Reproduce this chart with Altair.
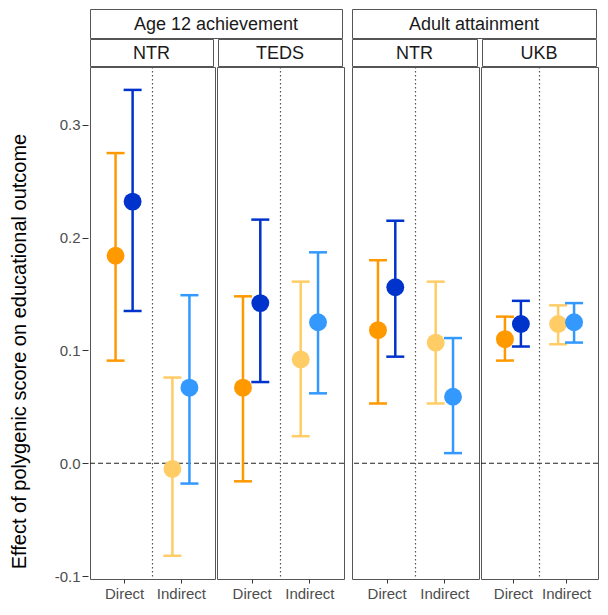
import altair as alt
import pandas as pd

# ---------------- data ----------------
outcome_groups = ["Age 12 achievement", "Adult attainment"]
group_cohorts = [["NTR", "TEDS"], ["NTR", "UKB"]]
effect_types = ["Direct", "Indirect"]
series_names = ["Model 1", "Model 2"]

# order within each panel: Direct/Model 1, Direct/Model 2, Indirect/Model 1, Indirect/Model 2
est_age12_ntr = [0.184, 0.232, -0.005, 0.067]
lo_age12_ntr = [0.091, 0.135, -0.082, -0.018]
hi_age12_ntr = [0.275, 0.331, 0.076, 0.149]

est_age12_teds = [0.067, 0.142, 0.092, 0.125]
lo_age12_teds = [-0.016, 0.072, 0.024, 0.062]
hi_age12_teds = [0.148, 0.216, 0.161, 0.187]

est_adult_ntr = [0.118, 0.156, 0.107, 0.059]
lo_adult_ntr = [0.053, 0.0945, 0.053, 0.009]
hi_adult_ntr = [0.180, 0.215, 0.161, 0.111]

est_adult_ukb = [0.110, 0.1235, 0.1235, 0.125]
lo_adult_ukb = [0.091, 0.1035, 0.1055, 0.107]
hi_adult_ukb = [0.130, 0.144, 0.140, 0.142]

panel_values = [
    [(est_age12_ntr, lo_age12_ntr, hi_age12_ntr), (est_age12_teds, lo_age12_teds, hi_age12_teds)],
    [(est_adult_ntr, lo_adult_ntr, hi_adult_ntr), (est_adult_ukb, lo_adult_ukb, hi_adult_ukb)],
]

color_keys = ["Direct · Model 1", "Direct · Model 2", "Indirect · Model 1", "Indirect · Model 2"]
color_values = ["#FF9900", "#0033CC", "#FFCC66", "#3399FF"]

y_ticks = [-0.1, 0.0, 0.1, 0.2, 0.3]
y_title = "Effect of polygenic score on educational outcome"

# ---------------- styling / layout ----------------
FONT = "Liberation Sans"
BORDER = "#555555"
SW = 1  # border stroke width (Vega expands bounds by SW on each side)
Y_DOMAIN = [-0.1026, 0.3513]
X_DOMAIN = [0.4, 2.6]
DODGE = 0.15
PANEL_H = 512
OUTER_H = 29
INNER_H = 27
panel_widths = [[125, 127], [127, 117]]
strip_widths = [[123, 124], [125, 114]]
STRIP_GAP = 3
GROUP_GAP = 6

y_scale = alt.Scale(domain=Y_DOMAIN, nice=False, zero=False)
x_scale = alt.Scale(domain=X_DOMAIN, nice=False, zero=False)
color_scale = alt.Scale(domain=color_keys, range=color_values)

label_expr = "datum.value == 1 ? '{}' : '{}'".format(effect_types[0], effect_types[1])


def panel_frame(values):
    est, lo, hi = values
    rows = []
    k = 0
    for ei, eff in enumerate(effect_types):
        for si, ser in enumerate(series_names):
            rows.append({
                "effect": eff,
                "series": ser,
                "key": color_keys[k],
                "xpos": ei + 1 + (DODGE if si == 1 else -DODGE),
                "est": est[k],
                "lo": lo[k],
                "hi": hi[k],
            })
            k += 1
    return pd.DataFrame(rows)


def strip(label, w, h):
    df = pd.DataFrame({"label": [label]})
    return alt.Chart(df).mark_text(
        fontSize=18, font=FONT, color="#1a1a1a", baseline="alphabetic", align="center"
    ).encode(
        text="label:N", x=alt.value(w / 2), y=alt.value(h / 2 + 6.5)
    ).properties(
        width=w, height=h,
        view=alt.ViewBackground(stroke=BORDER, strokeWidth=SW, fill="white"),
    )


def blank(w, h):
    df = pd.DataFrame({"label": [""]})
    return alt.Chart(df).mark_text().encode(text="label:N").properties(
        width=w, height=h,
        view=alt.ViewBackground(stroke="transparent", strokeWidth=SW),
    )


def panel(values, w):
    df = panel_frame(values)
    base = alt.Chart(df)
    xaxis = alt.Axis(values=[1, 2], labelExpr=label_expr, title=None, domain=False,
                     ticks=True, tickSize=4, tickColor="#333333", labelPadding=3,
                     labelFontSize=15, labelColor="#4d4d4d", labelFont=FONT, grid=False)
    sep = alt.Chart(pd.DataFrame({"mid": [(1 + 2) / 2]})).mark_rule(
        color="#555555", strokeDash=[1.5, 2.5], strokeWidth=1.2
    ).encode(x=alt.X("mid:Q", scale=x_scale, axis=xaxis))
    zero = alt.Chart(pd.DataFrame({"ref": [0.0]})).mark_rule(
        color="#222222", strokeDash=[5, 3], strokeWidth=1.2
    ).encode(y=alt.Y("ref:Q", scale=y_scale, axis=None))
    enc_color = alt.Color("key:N", scale=color_scale, legend=None)
    bars = base.mark_rule(strokeWidth=2.5).encode(
        x=alt.X("xpos:Q", scale=x_scale, axis=xaxis),
        y=alt.Y("lo:Q", scale=y_scale, axis=None),
        y2="hi:Q",
        color=enc_color,
    )
    cap_lo = base.mark_tick(orient="horizontal", size=18, thickness=2.5, opacity=1).encode(
        x=alt.X("xpos:Q", scale=x_scale, axis=xaxis),
        y=alt.Y("lo:Q", scale=y_scale, axis=None),
        color=enc_color,
    )
    cap_hi = base.mark_tick(orient="horizontal", size=18, thickness=2.5, opacity=1).encode(
        x=alt.X("xpos:Q", scale=x_scale, axis=xaxis),
        y=alt.Y("hi:Q", scale=y_scale, axis=None),
        color=enc_color,
    )
    pts = base.mark_circle(size=320, opacity=1).encode(
        x=alt.X("xpos:Q", scale=x_scale, axis=xaxis),
        y=alt.Y("est:Q", scale=y_scale, axis=None),
        color=enc_color,
    )
    return alt.layer(sep, zero, bars, cap_lo, cap_hi, pts).properties(
        width=w, height=PANEL_H,
        view=alt.ViewBackground(stroke=BORDER, strokeWidth=SW, fill="white"),
    )


groups = []
for gi, gname in enumerate(outcome_groups):
    inner = alt.hconcat(
        *[strip(c, strip_widths[gi][ci], INNER_H) for ci, c in enumerate(group_cohorts[gi])],
        spacing=STRIP_GAP,
    )
    panels = alt.hconcat(
        *[panel(panel_values[gi][ci], panel_widths[gi][ci]) for ci in range(len(group_cohorts[gi]))],
        spacing=-2 * SW,
    )
    total_w = sum(panel_widths[gi])
    groups.append(alt.vconcat(strip(gname, total_w, OUTER_H), inner, panels, spacing=-2 * SW))

# y axis column
axis_df = pd.DataFrame({"v": y_ticks})
yaxis = alt.Axis(values=y_ticks, labelExpr="replace(format(datum.value, '.1f'), '\u2212', '-')",
                 title=y_title, titleFontSize=20, titleFont=FONT, titleColor="#000000",
                 titleFontWeight="normal", titlePadding=25, titleY=284,
                 labelFontSize=15, labelFont=FONT, labelColor="#4d4d4d", labelPadding=2,
                 tickSize=6, tickColor="#333333", domain=False, grid=False)
axis_chart = alt.Chart(axis_df).mark_rule(opacity=0).encode(
    y=alt.Y("v:Q", scale=y_scale, axis=yaxis)
).properties(width=1, height=PANEL_H,
             view=alt.ViewBackground(stroke="transparent", strokeWidth=SW))

axis_col = alt.vconcat(blank(1, OUTER_H), blank(1, INNER_H), axis_chart, spacing=-2 * SW)

chart = alt.hconcat(
    axis_col,
    alt.hconcat(*groups, spacing=GROUP_GAP - 2 * SW),
    spacing=-2 * SW,
).properties(
    padding={"left": 0, "top": 0, "right": 0, "bottom": 0},
    background="white",
).configure(font=FONT)

chart.save("out.html", embed_options={"renderer": "svg", "actions": False})
